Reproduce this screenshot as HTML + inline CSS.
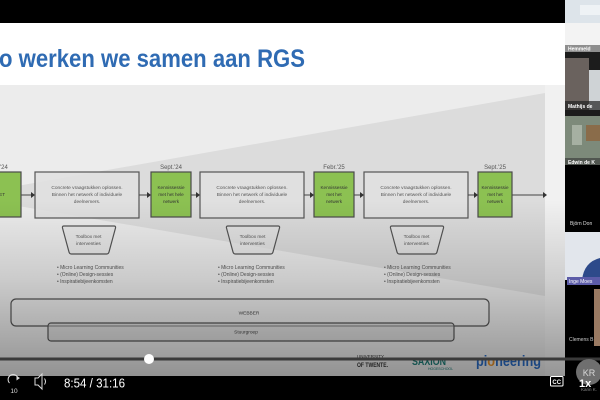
<!DOCTYPE html>
<html><head><meta charset="utf-8"><style>
html,body{margin:0;padding:0;background:#000;width:600px;height:400px;overflow:hidden}
svg{display:block}
</style></head><body>
<svg width="600" height="400" viewBox="0 0 600 400" font-family="'Liberation Sans', sans-serif">
<defs>
<linearGradient id="shade" x1="0" y1="0" x2="0" y2="1">
<stop offset="0" stop-color="#000" stop-opacity="0"/>
<stop offset="0.45" stop-color="#000" stop-opacity="0.14"/>
<stop offset="1" stop-color="#000" stop-opacity="0.38"/>
</linearGradient>
</defs>
<rect width="600" height="400" fill="#000"/>
<!-- slide -->
<rect x="0" y="23" width="565" height="353" fill="#ffffff"/>
<rect x="0" y="85" width="565" height="291" fill="#ececec"/>
<rect x="545" y="85" width="20" height="291" fill="#f1f1f1"/>
<polygon points="-40,196 545,93 545,296" fill="#dcdcdc"/>
<text x="-1" y="67" font-size="25" font-weight="bold" fill="#2f6bb3" textLength="306" lengthAdjust="spacingAndGlyphs">o werken we samen aan RGS</text>

<!-- dates -->
<g font-size="6" fill="#555">
<text x="0" y="169">'24</text>
<text x="171" y="169" text-anchor="middle">Sept.'24</text>
<text x="334" y="169" text-anchor="middle">Febr.'25</text>
<text x="495" y="169" text-anchor="middle">Sept.'25</text>
</g>

<!-- green boxes -->
<g fill="#8cc152" stroke="#4a4a4a" stroke-width="1.2">
<rect x="-5" y="172" width="26" height="45"/>
<rect x="151" y="172" width="40" height="45"/>
<rect x="314" y="172" width="40" height="45"/>
<rect x="478" y="172" width="34" height="45"/>
</g>
<!-- gray boxes -->
<g fill="#e0e0e0" fill-opacity="0.85" stroke="#555" stroke-width="1.2">
<rect x="35" y="172" width="104" height="46"/>
<rect x="200" y="172" width="104" height="46"/>
<rect x="364" y="172" width="104" height="46"/>
</g>
<!-- arrows -->
<g stroke="#444" stroke-width="1">
<line x1="21" y1="195" x2="32" y2="195"/>
<line x1="139" y1="195" x2="148" y2="195"/>
<line x1="191" y1="195" x2="197" y2="195"/>
<line x1="304" y1="195" x2="311" y2="195"/>
<line x1="354" y1="195" x2="361" y2="195"/>
<line x1="468" y1="195" x2="475" y2="195"/>
<line x1="512" y1="195" x2="544" y2="195"/>
</g>
<g fill="#333">
<polygon points="31,192 35,195 31,198"/>
<polygon points="147,192 151,195 147,198"/>
<polygon points="196,192 200,195 196,198"/>
<polygon points="310,192 314,195 310,198"/>
<polygon points="360,192 364,195 360,198"/>
<polygon points="474,192 478,195 474,198"/>
<polygon points="543,192 547,195 543,198"/>
</g>
<!-- green text -->
<g font-size="4.6" fill="#333" text-anchor="middle">
<text x="5" y="196" text-anchor="end">ET</text>
<text x="171" y="189">Kennissessie</text><text x="171" y="196">met het hele</text><text x="171" y="203">netwerk</text>
<text x="334" y="189">Kennissessie</text><text x="334" y="196">met het</text><text x="334" y="203">netwerk</text>
<text x="495" y="189">Kennissessie</text><text x="495" y="196">met het</text><text x="495" y="203">netwerk</text>
</g>
<!-- gray box text -->
<g font-size="4.8" fill="#555" text-anchor="middle">
<text x="87" y="189">Concrete vraagstukken oplossen.</text><text x="87" y="196">Binnen het netwerk of individuele</text><text x="87" y="203">deelnemers.</text>
<text x="252" y="189">Concrete vraagstukken oplossen.</text><text x="252" y="196">Binnen het netwerk of individuele</text><text x="252" y="203">deelnemers.</text>
<text x="416" y="189">Concrete vraagstukken oplossen.</text><text x="416" y="196">Binnen het netwerk of individuele</text><text x="416" y="203">deelnemers.</text>
</g>
<!-- toolboxes -->
<g fill="#e4e4e4" fill-opacity="0.6" stroke="#555" stroke-width="1.2" stroke-linejoin="round">
<path d="M64,226 L114,226 Q116,226 115.5,228 L109,252 Q108.5,254 106.5,254 L71.5,254 Q69.5,254 69,252 L62.5,228 Q62,226 64,226 Z"/>
<path d="M228,226 L278,226 Q280,226 279.5,228 L273,252 Q272.5,254 270.5,254 L235.5,254 Q233.5,254 233,252 L226.5,228 Q226,226 228,226 Z"/>
<path d="M392,226 L442,226 Q444,226 443.5,228 L437,252 Q436.5,254 434.5,254 L399.5,254 Q397.5,254 397,252 L390.5,228 Q390,226 392,226 Z"/>
</g>
<g font-size="4.8" fill="#555" text-anchor="middle">
<text x="88.5" y="238">Toolbox met</text><text x="88.5" y="245">interventies</text>
<text x="252.5" y="238">Toolbox met</text><text x="252.5" y="245">interventies</text>
<text x="416.5" y="238">Toolbox met</text><text x="416.5" y="245">interventies</text>
</g>
<!-- bullets -->
<g font-size="5" fill="#555">
<text x="57" y="269">•  Micro Learning Communities</text>
<text x="57" y="276">•  (Online) Design-sessies</text>
<text x="57" y="283">•  Inspiratiebijeenkomsten</text>
<text x="218" y="269">•  Micro Learning Communities</text>
<text x="218" y="276">•  (Online) Design-sessies</text>
<text x="218" y="283">•  Inspiratiebijeenkomsten</text>
<text x="384" y="269">•  Micro Learning Communities</text>
<text x="384" y="276">•  (Online) Design-sessies</text>
<text x="384" y="283">•  Inspiratiebijeenkomsten</text>
</g>
<!-- webber / stuurgroep -->
<g fill="none" stroke="#555" stroke-width="1.2">
<rect x="11" y="299" width="478" height="27" rx="5"/>
<rect x="48" y="323" width="406" height="18" rx="3" fill="#d2d2d2" fill-opacity="0.5"/>
</g>
<text x="249" y="314.5" font-size="4.8" fill="#444" text-anchor="middle">WEBBER</text>
<text x="246" y="333.5" font-size="4.8" fill="#444" text-anchor="middle">Stuurgroep</text>
<!-- logos -->
<text x="357" y="358" font-size="4.5" fill="#333">UNIVERSITY</text>
<text x="357" y="367" font-size="6" font-weight="bold" fill="#333" textLength="31" lengthAdjust="spacingAndGlyphs">OF TWENTE.</text>
<text x="412" y="365" font-size="11" font-weight="bold" fill="#1d7e78" textLength="34" lengthAdjust="spacingAndGlyphs">SAXION</text>
<text x="428" y="370" font-size="3.5" fill="#1d7e78">HOGESCHOOL</text>
<text x="476" y="366" font-size="15" font-weight="bold" fill="#2a6cc6" textLength="65" lengthAdjust="spacingAndGlyphs">pi<tspan fill="#e8922a">o</tspan>neering</text>
<!-- shade overlay -->
<rect x="0" y="200" width="565" height="176" fill="url(#shade)"/>

<!-- right column -->
<rect x="565" y="0" width="35" height="23" fill="#dde4ea"/>
<rect x="580" y="5" width="20" height="10" fill="#eef2f5"/>
<rect x="565" y="23" width="35" height="22" fill="#f3f3f3"/>
<rect x="565" y="45" width="35" height="7" fill="#8e8e8e"/>
<text x="568" y="50.5" font-size="5" font-weight="bold" fill="#fff">Hemmeld</text>
<rect x="565" y="52" width="35" height="64" fill="#1c1c1c"/>
<rect x="565" y="58" width="24" height="52" fill="#6a625e"/>
<rect x="589" y="70" width="11" height="40" fill="#cfd3d6"/>
<rect x="565" y="101" width="35" height="9" fill="#222" fill-opacity="0.7"/>
<text x="568" y="108" font-size="5" font-weight="bold" fill="#fff">Mathijs de</text>
<rect x="565" y="116" width="35" height="49" fill="#7d8a7a"/>
<rect x="572" y="125" width="10" height="20" fill="#a6b0a2"/>
<rect x="586" y="125" width="14" height="16" fill="#8a6c4a"/>
<rect x="565" y="158" width="35" height="7" fill="#333" fill-opacity="0.6"/>
<text x="568" y="164" font-size="5" font-weight="bold" fill="#fff">Edwin de K</text>
<rect x="565" y="165" width="35" height="67" fill="#000"/>
<text x="570" y="225" font-size="5" fill="#ddd">Björn Don</text>
<rect x="565" y="232" width="35" height="48" fill="#e2e6ec"/>
<path d="M582,280 Q584,262 600,258 L600,280 Z" fill="#2d4a8a"/>
<rect x="567" y="277" width="33" height="8" fill="#5c5ca8"/>
<text x="569" y="283" font-size="5" fill="#fff">Inge Moes</text>
<rect x="565" y="285" width="35" height="91" fill="#000"/>
<rect x="594" y="289" width="6" height="57" fill="#9a7a62"/>
<text x="569" y="341" font-size="5" fill="#ccc">Clemens B</text>

<!-- progress bar -->
<rect x="0" y="357.5" width="600" height="3" fill="#3a3a3a"/>
<circle cx="149" cy="359" r="5" fill="#fff"/>
<!-- bottom controls -->
<rect x="0" y="376" width="600" height="24" fill="#000"/>
<circle cx="589" cy="372" r="13" fill="#6f6f6f"/>
<text x="589" y="376" font-size="9" fill="#d8d8d8" text-anchor="middle">KR</text>
<text x="589" y="391" font-size="4.5" fill="#888" text-anchor="middle">Karin K.</text>
<text x="579" y="387" font-size="11" font-weight="bold" fill="#fff">1x</text>
<rect x="550.5" y="376.5" width="12.5" height="9.5" rx="1" fill="none" stroke="#fff" stroke-width="1"/>
<text x="556.7" y="384" font-size="6" font-weight="bold" fill="#fff" text-anchor="middle">CC</text>
<path d="M9.5,383 A5,5 0 1 1 18,378.5" fill="none" stroke="#ddd" stroke-width="1"/>
<polygon points="16.5,376 20,378 16.5,380.5" fill="#ddd"/>
<text x="14" y="393" font-size="6.5" fill="#ddd" text-anchor="middle">10</text>
<path d="M35,378 L38,378 L42,374 L42,389 L38,385 L35,385 Z" fill="none" stroke="#ddd" stroke-width="1"/>
<path d="M44.5,378.5 Q46.5,381.5 44.5,384.5" fill="none" stroke="#ddd" stroke-width="1"/>
<text x="64" y="387.5" font-size="12.5" fill="#fff" textLength="61" lengthAdjust="spacingAndGlyphs">8:54 / 31:16</text>
</svg>
</body></html>
